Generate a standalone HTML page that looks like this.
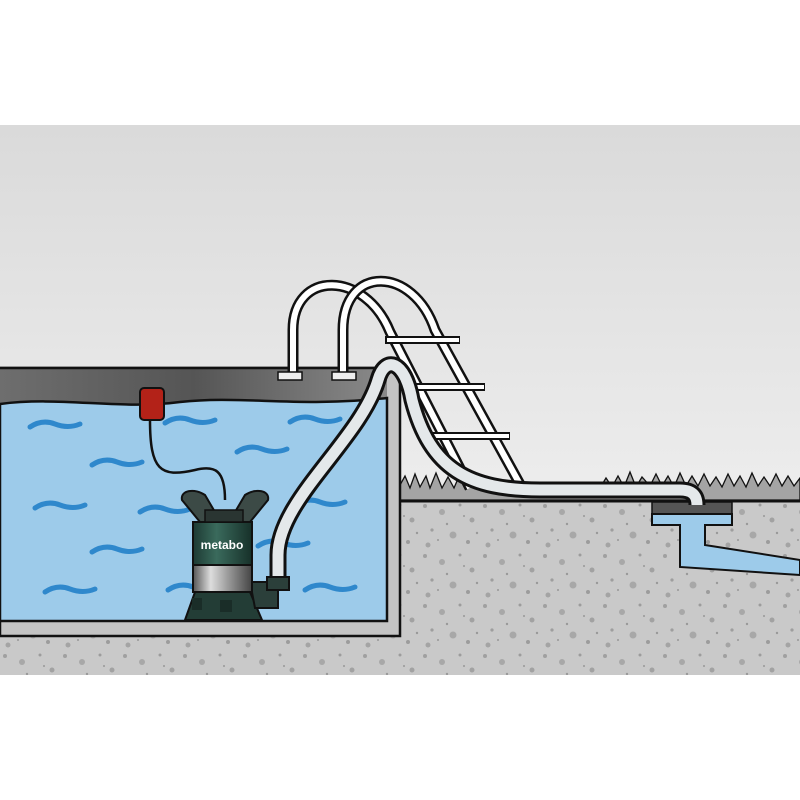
<!DOCTYPE html>
<html><head><meta charset="utf-8"><style>
html,body{margin:0;padding:0;background:#fff;width:800px;height:800px;overflow:hidden}
svg{display:block}
</style></head><body>
<svg width="800" height="800" viewBox="0 0 800 800" xmlns="http://www.w3.org/2000/svg">
<defs>
<linearGradient id="sky" x1="0" y1="0" x2="0" y2="1">
<stop offset="0" stop-color="#dadada"/><stop offset="1" stop-color="#f6f6f6"/></linearGradient>
<linearGradient id="rim" x1="0" y1="0" x2="1" y2="0">
<stop offset="0" stop-color="#6e6e6e"/><stop offset="0.5" stop-color="#555"/><stop offset="1" stop-color="#8a8a8a"/></linearGradient>
<linearGradient id="metal" x1="0" y1="0" x2="1" y2="0">
<stop offset="0" stop-color="#555"/><stop offset="0.3" stop-color="#ddd"/><stop offset="0.6" stop-color="#999"/><stop offset="1" stop-color="#444"/></linearGradient>
<linearGradient id="green" x1="0" y1="0" x2="1" y2="0">
<stop offset="0" stop-color="#1d3a33"/><stop offset="0.4" stop-color="#3a6a5c"/><stop offset="1" stop-color="#173029"/></linearGradient>
<pattern id="sp" width="60" height="50" patternUnits="userSpaceOnUse">
<rect width="60" height="50" fill="#c9c9c9"/>
<circle cx="5" cy="6" r="2" fill="#a0a0a0"/><circle cx="22" cy="12" r="3" fill="#a8a8a8"/>
<circle cx="40" cy="5" r="1.5" fill="#9c9c9c"/><circle cx="52" cy="20" r="2.5" fill="#a2a2a2"/>
<circle cx="12" cy="30" r="1.6" fill="#9e9e9e"/><circle cx="33" cy="35" r="3.5" fill="#a8a8a8"/>
<circle cx="48" cy="42" r="2" fill="#9c9c9c"/><circle cx="8" cy="45" r="2.5" fill="#a4a4a4"/>
<circle cx="27" cy="24" r="1.2" fill="#999"/><circle cx="57" cy="33" r="1.2" fill="#999"/>
<circle cx="18" cy="40" r="1" fill="#999"/><circle cx="44" cy="16" r="1" fill="#999"/>
</pattern>
</defs>
<rect x="0" y="125" width="800" height="550" fill="url(#sky)"/>
<rect x="0" y="500" width="800" height="175" fill="url(#sp)"/>
<rect x="0" y="630" width="410" height="45" fill="url(#sp)"/>
<path d="M400 500 L400 485 L405 476 L410 488 L415 474 L420 487 L426 476 L430 488 L436 473 L442 488 L448 477 L454 488 L460 474 L466 488 L472 477 L478 488 L490 488 L600 488 L606 478 L612 487 L618 476 L624 487 L630 472 L636 487 L642 477 L650 486 L656 474 L662 486 L668 476 L674 487 L680 473 L686 486 L692 476 L698 486 L704 474 L710 486 L716 477 L722 487 L728 474 L734 486 L740 476 L746 487 L752 473 L758 486 L764 477 L770 486 L776 474 L782 486 L788 476 L794 486 L800 478 L800 500 Z" fill="#a4a4a4" stroke="#111" stroke-width="1.3"/>
<line x1="400" y1="501" x2="800" y2="501" stroke="#111" stroke-width="3"/>
<rect x="652" y="502" width="80" height="12" fill="#555" stroke="#111" stroke-width="1.5"/>
<path d="M652 514 H732 V525 H705 V545 L800 560 V575 L680 567 V525 H652 Z" fill="#9dcbea" stroke="#111" stroke-width="2"/>
<path d="M0 368 H400 V636 H0 Z" fill="#c4c4c4" stroke="#111" stroke-width="2.5"/>
<rect x="0" y="368" width="387" height="40" fill="url(#rim)"/>
<path d="M0 404 C60 396 120 410 180 402 C240 395 300 408 387 398 V621 H0 Z" fill="#9dcbea" stroke="#111" stroke-width="2.5"/>
<line x1="0" y1="368" x2="400" y2="368" stroke="#111" stroke-width="2.5"/>
<line x1="387" y1="398" x2="387" y2="621" stroke="#111" stroke-width="2"/>
<g fill="none" stroke="#2f88cc" stroke-width="5" stroke-linecap="round">
<path d="M30 427 q12 -8 25 -3 t25 0"/><path d="M165 423 q12 -8 25 -3 t25 0"/><path d="M290 422 q12 -8 25 -3 t25 0"/>
<path d="M92 465 q12 -8 25 -3 t25 0"/><path d="M237 452 q12 -8 25 -3 t25 0"/>
<path d="M35 508 q12 -8 25 -3 t25 0"/><path d="M140 512 q12 -8 25 -3 t25 0"/><path d="M295 505 q12 -8 25 -3 t25 0"/>
<path d="M92 552 q12 -8 25 -3 t25 0"/><path d="M258 546 q12 -8 25 -3 t25 0"/>
<path d="M45 592 q12 -8 25 -3 t25 0"/><path d="M168 590 q12 -8 25 -3 t25 0"/><path d="M305 590 q12 -8 25 -3 t25 0"/>
</g>
<g fill="none">
<path d="M293 375 V330 C293 270 365 270 390 332 L470 488" stroke="#111" stroke-width="11"/>
<path d="M293 375 V330 C293 270 365 270 390 332 L470 488" stroke="#fff" stroke-width="6"/>
<path d="M343 375 V330 C343 265 413 265 435 330 L522 488" stroke="#111" stroke-width="11"/>
<path d="M343 375 V330 C343 265 413 265 435 330 L522 488" stroke="#fff" stroke-width="6"/>
<g stroke="#111" stroke-width="8"><line x1="385" y1="340" x2="460" y2="340"/><line x1="400" y1="387" x2="485" y2="387"/><line x1="422" y1="436" x2="510" y2="436"/></g>
<g stroke="#fff" stroke-width="4"><line x1="387" y1="340" x2="459" y2="340"/><line x1="402" y1="387" x2="484" y2="387"/><line x1="424" y1="436" x2="509" y2="436"/></g>
</g>
<rect x="278" y="372" width="24" height="8" fill="#eee" stroke="#111" stroke-width="1.5"/>
<rect x="332" y="372" width="24" height="8" fill="#eee" stroke="#111" stroke-width="1.5"/>
<path d="M278 580 V555 C278 500 360 440 378 380 C385 355 405 360 412 400 C430 470 470 490 540 490 H680 C692 490 697 495 697 505" fill="none" stroke="#111" stroke-width="17"/>
<path d="M278 580 V555 C278 500 360 440 378 380 C385 355 405 360 412 400 C430 470 470 490 540 490 H680 C692 490 697 495 697 505" fill="none" stroke="#e4e8ea" stroke-width="11"/>
<path d="M150 420 C150 470 160 478 195 470 C215 465 225 470 225 500" fill="none" stroke="#111" stroke-width="2.5"/>
<rect x="140" y="388" width="24" height="32" rx="4" fill="#b32218" stroke="#111" stroke-width="2"/>
<path d="M185 620 L195 592 H250 L262 620 Z" fill="#233d36" stroke="#111" stroke-width="2"/>
<rect x="192" y="598" width="10" height="12" fill="#1a2d28"/><rect x="220" y="600" width="12" height="12" fill="#1a2d28"/>
<path d="M250 582 H278 V608 H255 Z" fill="#2b3f3a" stroke="#111" stroke-width="2"/>
<rect x="267" y="577" width="22" height="13" fill="#2b3f3a" stroke="#111" stroke-width="2"/>
<rect x="193" y="565" width="59" height="27" fill="url(#metal)" stroke="#111" stroke-width="2"/>
<rect x="193" y="522" width="59" height="43" fill="url(#green)" stroke="#111" stroke-width="2"/>
<text x="222" y="549" font-family="Liberation Sans, sans-serif" font-weight="bold" font-size="12" fill="#fff" text-anchor="middle">metabo</text>
<path d="M182 500 C180 490 195 488 205 495 L215 512 L210 522 H200 Z" fill="#3c4a46" stroke="#111" stroke-width="2"/>
<path d="M268 500 C270 490 255 488 245 495 L235 512 L240 522 H250 Z" fill="#3c4a46" stroke="#111" stroke-width="2"/>
<rect x="205" y="510" width="38" height="12" fill="#2a3532" stroke="#111" stroke-width="1.5"/>
</svg>
</body></html>
